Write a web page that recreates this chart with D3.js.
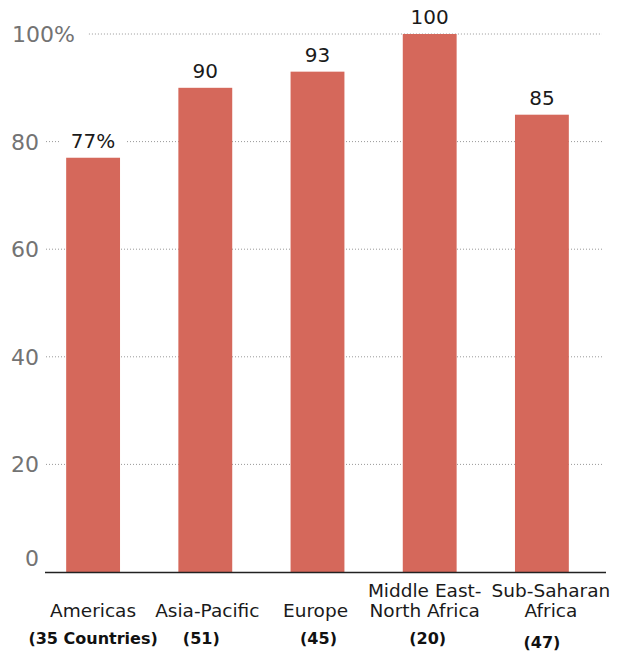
<!DOCTYPE html>
<html>
<head>
<meta charset="utf-8">
<script src="https://cdn.jsdelivr.net/npm/d3@7/dist/d3.min.js"></script>
<style>
  html, body { margin: 0; padding: 0; background: #fff; }
  svg { display: block; font-family: "DejaVu Sans", Verdana, sans-serif; }
</style>
</head>
<body>
<svg id="chart" width="618" height="651"></svg>
<script>
const categories = ["Americas", "Asia-Pacific", "Europe", "Middle East-\nNorth Africa", "Sub-Saharan\nAfrica"];
const counts = ["(35 Countries)", "(51)", "(45)", "(20)", "(47)"];
const values = [77, 90, 93, 100, 85];
const valueLabels = ["77%", "90", "93", "100", "85"];
const tickValues = [0, 20, 40, 60, 80, 100];
const tickLabels = ["0", "20", "40", "60", "80", "100%"];

const svg = d3.select("#chart");
const baseY = 572, topY = 34;

const x = d3.scaleBand().domain(categories).range([37, 598]).paddingInner(0.52).paddingOuter(0.26);
const y = d3.scaleLinear().domain([0, 100]).range([baseY, topY]);

// layout nudges for the hand-placed category labels (pixels)
const catNudge = [0, 2, -2, -5, 9];
const countNudge = [0, -4, 1, -2, 0];

// tick labels + gridlines
const tickG = svg.append("g");
tickValues.forEach((v, i) => {
  const ty = v === 0 ? y(v) - 14 : y(v);
  const isTop = v === 100;
  const t = tickG.append("text")
    .attr("x", isTop ? 12 : 39).attr("y", ty).attr("dy", "0.36em")
    .attr("text-anchor", isTop ? "start" : "end")
    .attr("font-size", 22).attr("fill", "#737373")
    .text(tickLabels[i]);
  if (v !== 0) {
    const b = t.node().getBBox();
    svg.append("line")
      .attr("x1", isTop ? b.x + b.width + 14 : 46).attr("x2", 602)
      .attr("y1", y(v)).attr("y2", y(v))
      .attr("stroke", "#999").attr("stroke-width", 1)
      .attr("stroke-dasharray", "1,2");
  }
});

// bars
svg.append("g").selectAll("rect").data(values).join("rect")
  .attr("x", (d, i) => x(categories[i]))
  .attr("width", x.bandwidth())
  .attr("y", d => y(d))
  .attr("height", d => baseY - y(d))
  .attr("fill", "#d5685b");

// value labels
const vl = svg.append("g");
values.forEach((v, i) => {
  const cx = x(categories[i]) + x.bandwidth() / 2;
  const t = vl.append("text")
    .attr("x", cx).attr("y", y(v) - 10)
    .attr("text-anchor", "middle")
    .attr("font-size", 20).attr("fill", "#1a1a1a")
    .text(valueLabels[i]);
  const b = t.node().getBBox();
  vl.insert("rect", "text")
    .attr("x", b.x - 10).attr("y", b.y)
    .attr("width", b.width + 20).attr("height", b.height)
    .attr("fill", "#fff");
});

// axis line
svg.append("line")
  .attr("x1", 45).attr("x2", 606)
  .attr("y1", baseY + 0.5).attr("y2", baseY + 0.5)
  .attr("stroke", "#222").attr("stroke-width", 1.5);

// category labels
categories.forEach((c, i) => {
  const cx = x(c) + x.bandwidth() / 2;
  const lines = c.split("\n");
  const t = svg.append("text")
    .attr("text-anchor", "middle")
    .attr("font-size", 18.5).attr("fill", "#1a1a1a");
  lines.forEach((ln, j) => {
    t.append("tspan")
      .attr("x", cx + catNudge[i])
      .attr("y", 617 - (lines.length - 1 - j) * 20)
      .text(ln);
  });
  svg.append("text")
    .attr("x", cx + countNudge[i]).attr("y", i === 4 ? 648 : 644)
    .attr("text-anchor", "middle")
    .attr("font-size", 16).attr("font-weight", "bold").attr("fill", "#111")
    .text(counts[i]);
});
</script>
</body>
</html>
